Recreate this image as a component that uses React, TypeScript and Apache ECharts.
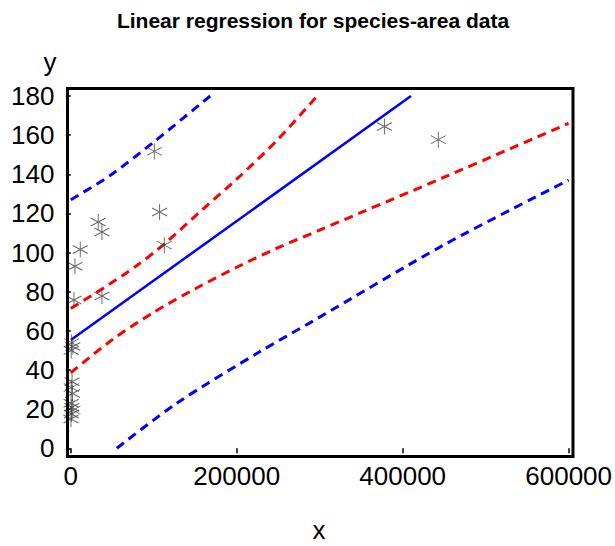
import React, { useEffect, useRef } from "react";
import * as echarts from "echarts";

const titleText = "Linear regression for species-area data";
const xName = "x";
const yName = "y";

const xTicks = [0, 200000, 400000, 600000];
const yTicks = [0, 20, 40, 60, 80, 100, 120, 140, 160, 180];

// observed data (stars)
const speciesX = [443000, 378000, 100700, 107000, 112700, 33000, 37500, 11400, 5000, 37500, 3800,
  1000, 2500, 500,
  1500, 600, 2000, 300, 1200, 2500, 800, 200];
const speciesY = [157.7, 164.4, 151.7, 120.7, 103.8, 115.6, 110.5, 101.6, 93, 77.8, 75.8,
  54, 52, 50,
  34, 31, 28, 23, 21, 19.5, 17.5, 15];

// fitted regression line
const fitX = [0, 410000];
const fitY = [55.3, 180];

// confidence limits for the mean (red dashed)
const ciUpperX = [0, 40000, 80000, 113000, 160000, 200000, 250000, 297000];
const ciUpperY = [71.5, 82, 93.5, 104.5, 122.5, 137.5, 158, 180];
const ciLowerX = [0, 50000, 100000, 150000, 200000, 250000, 300000, 350000, 450000, 600000];
const ciLowerY = [38.6, 55.5, 69.5, 81.5, 92.5, 102.5, 111.5, 120.5, 138.5, 166];

// prediction limits (blue dashed)
const piUpperX = [0, 47400, 100000, 168000];
const piUpperY = [127, 139.4, 156.5, 180];
const piLowerX = [55500, 127600, 227600, 291800, 450000, 600000];
const piLowerY = [0, 23, 49.3, 65, 104, 137];

const zip = (xs: number[], ys: number[]) => xs.map((x, i) => [x, ys[i]]);

const FONT = "'Liberation Sans', Arial, sans-serif";
const STAR = "path://M0,-10L0,10M-8.66,-5L8.66,5M-8.66,5L8.66,-5";

export default function App() {
  const ref = useRef<HTMLDivElement>(null);
  useEffect(() => {
    document.body.style.margin = "0";
    if (!ref.current) return;
    const chart = echarts.init(ref.current, null, { renderer: "svg" });
    const dashed = (color: string) => ({
      color,
      width: 3,
      type: [9, 6] as any,
    });
    chart.setOption({
      animation: false,
      backgroundColor: "#fff",
      grid: { left: 70.8, right: 45.2, top: 96, bottom: 97.7, containLabel: false },
      xAxis: {
        type: "value",
        min: xTicks[0],
        max: xTicks[xTicks.length - 1],
        interval: xTicks[1] - xTicks[0],
        offset: 8.2,
        splitLine: { show: false },
        axisLine: { show: false },
        axisTick: { show: true, length: 5, lineStyle: { color: "#000", width: 1.5 } },
        axisLabel: {
          color: "#000",
          fontSize: 26,
          fontFamily: FONT,
          margin: 6,
          formatter: (v: number) => String(v),
        },
      },
      yAxis: {
        type: "value",
        min: yTicks[0],
        max: yTicks[yTicks.length - 1],
        interval: yTicks[1] - yTicks[0],
        offset: 3.3,
        splitLine: { show: false },
        axisLine: { show: false },
        axisTick: { show: true, length: 5, lineStyle: { color: "#000", width: 1.5 } },
        axisLabel: {
          color: "#000",
          fontSize: 26,
          fontFamily: FONT,
          margin: 13,
          formatter: (v: number) => String(v),
        },
      },
      graphic: [
        {
          type: "rect",
          shape: { x: 67.5, y: 88.5, width: 505.5, height: 368 },
          style: { fill: "none", stroke: "#000", lineWidth: 3 },
          silent: true,
          z: 100,
        },
        {
          type: "text",
          x: 313,
          y: 20,
          style: {
            text: titleText,
            fill: "#000",
            font: `bold 21px ${FONT}`,
            textAlign: "center",
            textVerticalAlign: "middle",
          },
        },
        {
          type: "text",
          x: 50,
          y: 62,
          style: {
            text: yName,
            fill: "#000",
            font: `26px ${FONT}`,
            textAlign: "center",
            textVerticalAlign: "middle",
          },
        },
        {
          type: "text",
          x: 319,
          y: 530,
          style: {
            text: xName,
            fill: "#000",
            font: `26px ${FONT}`,
            textAlign: "center",
            textVerticalAlign: "middle",
          },
        },
      ],
      series: [
        {
          type: "line",
          data: zip(piUpperX, piUpperY),
          showSymbol: false,
          smooth: 0.3,
          lineStyle: dashed("#0000ff"),
        },
        {
          type: "line",
          data: zip(piLowerX, piLowerY),
          showSymbol: false,
          smooth: 0.3,
          lineStyle: dashed("#0000ff"),
        },
        {
          type: "line",
          data: zip(ciUpperX, ciUpperY),
          showSymbol: false,
          smooth: 0.3,
          lineStyle: dashed("#ff0000"),
        },
        {
          type: "line",
          data: zip(ciLowerX, ciLowerY),
          showSymbol: false,
          smooth: 0.3,
          lineStyle: dashed("#ff0000"),
        },
        {
          type: "line",
          data: zip(fitX, fitY),
          showSymbol: false,
          lineStyle: { color: "#0000ff", width: 2.5 },
        },
        {
          type: "scatter",
          data: zip(speciesX, speciesY),
          symbol: STAR,
          symbolSize: [15, 16],
          itemStyle: { color: "rgba(0,0,0,0)", borderColor: "#444", borderWidth: 1 },
          z: 3,
        },
      ],
    });
    return () => chart.dispose();
  }, []);
  return <div ref={ref} style={{ width: 615, height: 546 }} />;
}
